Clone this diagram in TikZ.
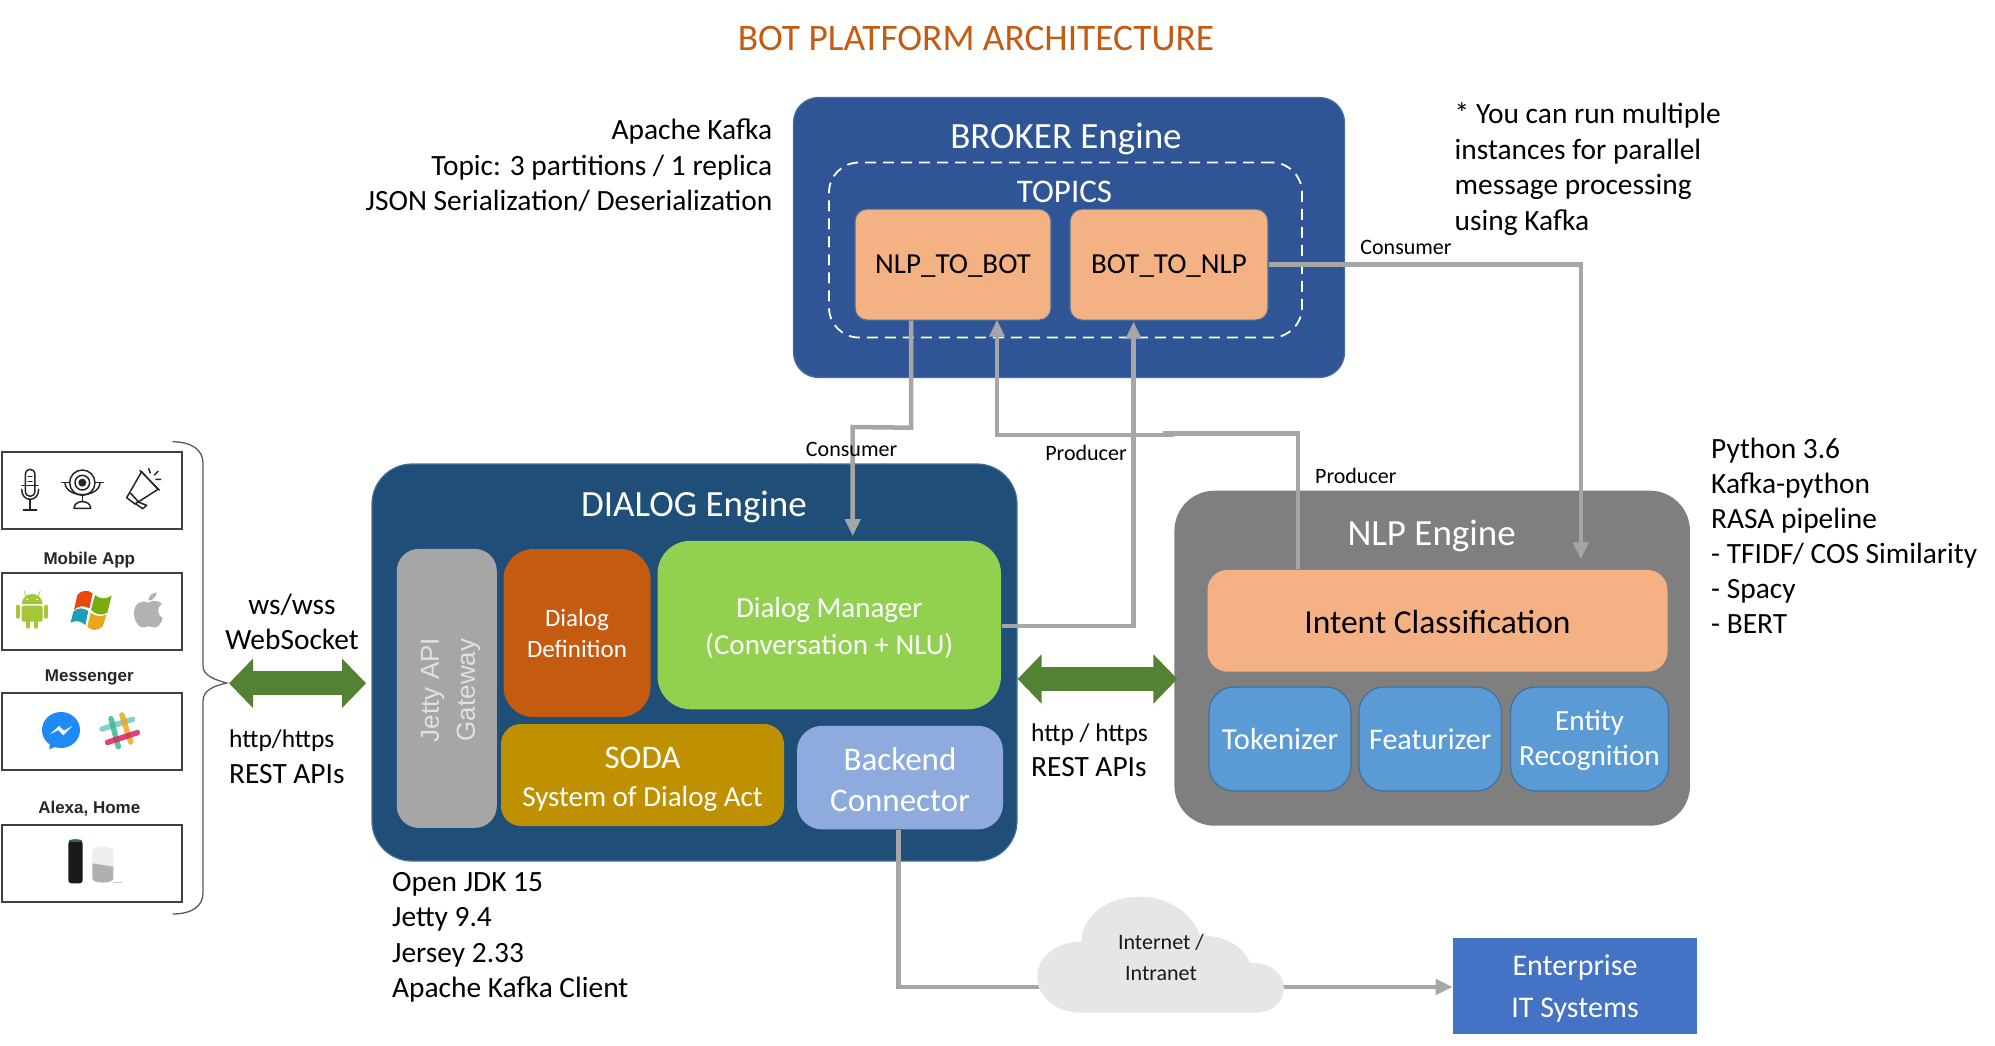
\documentclass[tikz,border=0pt]{standalone}
\usepackage{fontspec}
\setmainfont{Carlito}
\newfontfamily\arialf{Liberation Sans}
\usetikzlibrary{arrows.meta}
\newcommand\fz[2]{\fontsize{#1}{#2}\selectfont}
\newcommand\headroom[1]{\rule{0pt}{#1}}
\definecolor{conngray}{HTML}{A6A6A6}
\definecolor{borderblue}{HTML}{41719C}
\definecolor{orangelt}{HTML}{F4B183}
\definecolor{arrowgreen}{HTML}{548235}
\tikzset{
  box/.style={draw=borderblue,line width=1.2pt,text=white,align=center,inner sep=0pt},
  lower/.style={execute at begin node={\rule{0pt}{#1}}},
  plain/.style={inner sep=0pt,align=left},
  lbl/.style={inner sep=0pt,font=\fz{22}{26},text=black},
  conn/.style={draw=conngray,line width=4.5pt,line join=miter},
  tip/.style={-{Triangle[length=17pt,width=15pt]}},
  dbl/.style={draw=arrowgreen,line width=24pt,{Triangle[length=24pt,width=48pt]}-{Triangle[length=24pt,width=48pt]}},
  channel/.style={draw=black!75,line width=1.6pt,minimum width=180pt,minimum height=77pt,inner sep=0pt},
  chlabel/.style={inner sep=0pt,font=\arialf\bfseries\fz{17}{20},text=black!85},
  note/.style={plain,font=\fz{29.4}{35.5},text=black},
  icon/.style={draw=black!85,line width=1.5pt,line cap=round,line join=round}
}
\begin{document}
\begin{tikzpicture}[x=1pt,y=-1pt]
\useasboundingbox[fill=white] (0,0) rectangle (1995,1045);

% Title
\node[inner sep=0pt,font=\fz{37.4}{44},text={rgb,255:red,197;green,90;blue,17}] (title) at (976,38) {BOT PLATFORM ARCHITECTURE};

% Broker
\node[box,fill={rgb,255:red,47;green,85;blue,151},rounded corners=25pt,minimum width=551pt,minimum height=280pt] (broker) at (1069,237.5) {};
\node[inner sep=0pt,font=\fz{37}{44},text=white] (brokertitle) at (1066,139) {BROKER Engine};
\node[draw=white,dashed,line width=1.8pt,rounded corners=30pt,minimum width=473pt,minimum height=175pt,inner sep=0pt,dash pattern=on 11pt off 7pt] (topics) at (1065.5,250) {};
\node[inner sep=0pt,font=\fz{33}{40},text=white] (topicstitle) at (1064.5,192) {TOPICS};
\node[box,lower=22pt,fill=orangelt,text=black,rounded corners=12pt,minimum width=196pt,minimum height=111pt,font=\fz{29}{35}] (ntb) at (953,264.6) {NLP\_TO\_BOT};
\node[box,lower=22pt,fill=orangelt,text=black,rounded corners=12pt,minimum width=198pt,minimum height=111pt,font=\fz{29}{35}] (btn) at (1169,264.6) {BOT\_TO\_NLP};

% Dialog
\node[box,fill={rgb,255:red,31;green,78;blue,121},rounded corners=40pt,minimum width=645pt,minimum height=397pt] (dialog) at (694.5,662.5) {};
\node[inner sep=0pt,font=\fz{37}{44},text=white] (dialogtitle) at (694,507) {DIALOG Engine};
\node[box,draw=none,fill=conngray,rounded corners=22pt,minimum width=100pt,minimum height=279pt] (jetty) at (446.8,688.4) {};
\node[rotate=90,inner sep=0pt,align=center,font=\arialf\fz{26}{36},text={rgb,255:red,225;green,225;blue,225}] (jettytext) at (450.5,690) {Jetty API\\Gateway};
\node[box,draw=none,fill={rgb,255:red,197;green,90;blue,17},rounded corners=30pt,minimum width=147pt,minimum height=168pt,font=\fz{25}{31}] (ddef) at (577,633) {Dialog\\Definition};
\node[box,draw=none,fill={rgb,255:red,146;green,208;blue,80},rounded corners=33pt,minimum width=343.5pt,minimum height=168.5pt,font=\fz{29}{36}] (dm) at (829.25,625) {\headroom{26pt}Dialog Manager\\(Conversation + NLU)};
\node[box,draw=none,fill={rgb,255:red,191;green,144;blue,0},rounded corners=20pt,minimum width=283pt,minimum height=102pt,font=\fz{29}{38}] (soda) at (642.5,775) {\headroom{30pt}{\fz{33}{38}SODA}\\System of Dialog Act};
\node[box,draw=none,fill={rgb,255:red,143;green,170;blue,220},rounded corners=25pt,minimum width=206pt,minimum height=103.5pt,font=\fz{33}{41}] (backend) at (900,777.6) {\headroom{26.6pt}Backend\\Connector};

% NLP
\node[box,draw=none,fill={rgb,255:red,127;green,127;blue,127},rounded corners=40pt,minimum width=515.5pt,minimum height=335pt] (nlp) at (1432.2,658.2) {};
\node[inner sep=0pt,font=\fz{37}{44},text=white] (nlptitle) at (1431.6,535.5) {NLP Engine};
\node[box,lower=26.5pt,draw=none,fill=orangelt,text=black,rounded corners=20pt,minimum width=460pt,minimum height=101.7pt,font=\fz{33.5}{40}] (intent) at (1437.5,620.8) {Intent Classification};
\node[box,lower=22pt,fill={rgb,255:red,91;green,155;blue,213},rounded corners=25pt,minimum width=142pt,minimum height=104pt,font=\fz{30.5}{35}] (tok) at (1280,739) {Tokenizer};
\node[box,lower=22pt,fill={rgb,255:red,91;green,155;blue,213},rounded corners=25pt,minimum width=142.4pt,minimum height=104pt,font=\fz{30}{35}] (feat) at (1430.2,739) {Featurizer};
\node[box,fill={rgb,255:red,91;green,155;blue,213},rounded corners=25pt,minimum width=158pt,minimum height=104pt,font=\fz{29.3}{35}] (ent) at (1589.5,739) {\headroom{24pt}Entity\\Recognition};

% Enterprise
\node[box,draw=none,fill={rgb,255:red,68;green,114;blue,196},minimum width=243.4pt,minimum height=95.7pt,font=\fz{30}{42}] (ent2) at (1575,985.85) {\headroom{26pt}Enterprise\\IT Systems};

% Connectors
\coordinate (c1) at (1580.8,263.3);
\draw[conn,tip] (btn.east) -- (c1 |- btn.east) -- ([xshift=143.3pt,yshift=10pt]intent.north);
\draw[conn,tip] ([xshift=-42pt]ntb.south) -- ++(0,107) -- (852.7,427) -- ([xshift=23.45pt,yshift=4pt]dm.north);
\draw[conn,tip,line cap=butt] (1174,435) -- (997,435) -- ([xshift=44pt,yshift=1pt]ntb.south);
\draw[conn] (1162.7,433.3) -- (1297.8,433.3) -- ([xshift=-139.7pt]intent.north);
\draw[conn,tip] ([yshift=-1pt]dm.east) -- (1133.6,626) -- ([xshift=-35.4pt,yshift=-1pt]btn.south);

% Cloud with line
\node[inner sep=0pt,minimum size=0pt] (cloudc) at (1160.5,987) {};
\draw[conn,line cap=butt] ([xshift=-1.4pt]backend.south) -- (898.6,987) -- (cloudc.center);
\draw[conn,tip] (cloudc.center) -- ([yshift=-1.15pt]ent2.west);
\fill[fill={rgb,255:red,230;green,230;blue,230}] (1081.6,941.7)
  .. controls (1056,941.7) and (1037.2,957) .. (1037.2,976.7)
  .. controls (1037.2,997) and (1056,1012.7) .. (1081.6,1012.7)
  -- (1254,1012.7)
  .. controls (1272,1012.7) and (1283.8,1002) .. (1283.8,988.3)
  .. controls (1283.8,974) and (1272,962.7) .. (1250,962.7)
  .. controls (1243,945) and (1222,935) .. (1199.8,935.5)
  .. controls (1192,912) and (1167,896.7) .. (1140,896.7)
  .. controls (1107,896.7) and (1081.6,916) .. (1081.6,941.7) -- cycle;
\node[inner sep=0pt,align=center,font=\fz{22}{31},text=black!90] (cloudtext) at (1161,957.5) {Internet /\\Intranet};

% Connector labels
\node[lbl] (lc1) at (851.6,449) {Consumer};
\node[lbl] (lp1) at (1086,452.7) {Producer};
\node[lbl] (lp2) at (1355.8,475.7) {Producer};
\node[lbl] (lc2) at (1406,247) {Consumer};

% Green arrows
\draw[dbl] ([yshift=-16.5pt]dialog.east) -- ([xshift=3.5pt,yshift=-20.8pt]nlp.west);
\coordinate (bracetip) at (229,683.3);
\draw[dbl] (bracetip) -- ([xshift=-5.3pt,yshift=-20.8pt]dialog.west);

% Notes
\node[note,anchor=east,align=right] (kafka) at (772.5,165.5) {Apache Kafka\\Topic: 3 partitions / 1 replica\\JSON Serialization/ Deserialization};
\node[note,anchor=west] (parallel) at (1454.5,169) {* You can run multiple\\instances for parallel\\message processing\\using Kafka};
\node[note,anchor=west,font=\fz{29.4}{35}] (python) at (1711,536) {Python 3.6\\Kafka-python\\RASA pipeline\\- TFIDF/ COS Similarity\\- Spacy\\- BERT};
\node[note,anchor=west] (jdk) at (392,937.5) {Open JDK 15\\Jetty 9.4\\Jersey 2.33\\Apache Kafka Client};
\node[note,anchor=center,align=center] (ws) at (292,622) {ws/wss\\WebSocket};
\node[note,anchor=west] (rest1) at (229,756.5) {{\fz{25.5}{35.5}http/https}\\REST APIs};
\node[note,anchor=west] (rest2) at (1031,750) {{\fz{25.5}{35.5}http / https}\\REST APIs};

% Channel boxes
\node[channel] (ch1) at (91.7,490.3) {};
\node[channel] (ch2) at (91.7,611.7) {};
\node[channel] (ch3) at (91.7,731.3) {};
\node[channel] (ch4) at (91.7,863.5) {};
\node[chlabel] (l2) at (89.3,560) {Mobile App};
\node[chlabel] (l3) at (89.3,677) {Messenger};
\node[chlabel] (l4) at (89.3,809) {Alexa, Home};

% Brace
\draw[draw=black!65,line width=1.3pt] (172.7,441.7) .. controls (192,442) and (203,450) .. (203,463) -- (203,666)
  .. controls (203,676) and (216,680) .. (226.7,683)
  .. controls (214,686) and (203,690) .. (203,701) -- (203,893)
  .. controls (203,906) and (192,914) .. (172.7,914);

% Icons, drawn in 3x crop coordinates
\begin{scope}[shift={(0,430)},x=0.33333pt,y=-0.33333pt]
  % microphone
  \draw[icon] (76,135) .. controls (76,112) and (105,112) .. (105,135) -- (105,182) .. controls (105,205) and (76,205) .. (76,182) -- cycle;
  \draw[icon] (65,178) .. controls (65,218) and (116,218) .. (116,178);
  \draw[icon] (90,208) -- (90,240) (70,240) -- (110,240) (66,167) -- (114,167);
  \draw[icon,line width=1.2pt] (84,140) -- (96,140) (84,155) -- (96,155);
  % webcam
  \draw[icon] (247,158) circle (38);
  \draw[icon] (247,158) circle (22);
  \fill[black!85] (247,158) circle (12);
  \draw[icon] (185,158) -- (209,158) (285,158) -- (310,158);
  \draw[icon] (195,160) .. controls (200,205) and (294,205) .. (300,160);
  \draw[icon] (247,198) -- (247,215);
  \draw[icon] (222,235) .. controls (222,208) and (272,208) .. (272,235) -- cycle;
  % megaphone
  \draw[icon] (425,125) -- (474,178) -- (405,222) -- (380,203) -- cycle;
  \draw[icon] (420,122) -- (478,180);
  \draw[icon] (392,190) -- (416,216);
  \draw[icon] (412,215) -- (440,226) -- (428,236) -- (405,220);
  \draw[icon] (446,116) -- (451,129) (474,124) -- (463,135) (468,148) -- (482,148);
  % android
  \fill[fill={rgb,255:red,164;green,198;blue,57}] (65,522) .. controls (68,482) and (125,482) .. (128,522) -- cycle;
  \fill[fill={rgb,255:red,164;green,198;blue,57},rounded corners=2pt] (65,527) rectangle (128,575);
  \draw[draw={rgb,255:red,164;green,198;blue,57},line width=4.2pt,line cap=round] (54,530) -- (54,560) (139,530) -- (139,560) (84,575) -- (84,590) (109,575) -- (109,590);
  \draw[draw={rgb,255:red,164;green,198;blue,57},line width=.7pt] (78,498) -- (72,482) (115,498) -- (121,482);
  \fill[white] (82,508) circle (3) (111,508) circle (3);
  % windows
  \fill[fill={rgb,255:red,232;green,72;blue,12}] (232,495) .. controls (245,480) and (262,478) .. (278,490) -- (268,535) .. controls (252,525) and (235,527) .. (222,540) -- cycle;
  \fill[fill={rgb,255:red,123;green,171;blue,18}] (285,495) .. controls (300,508) and (318,508) .. (335,497) -- (322,548) .. controls (305,558) and (288,555) .. (273,540) -- cycle;
  \fill[fill={rgb,255:red,30;green,159;blue,184}] (220,545) .. controls (233,532) and (250,532) .. (265,543) -- (256,585) .. controls (242,572) and (227,570) .. (212,578) -- cycle;
  \fill[fill={rgb,255:red,229;green,167;blue,30}] (272,548) .. controls (287,560) and (305,561) .. (320,553) -- (308,590) .. controls (292,603) and (275,603) .. (262,590) -- cycle;
  % apple
  \fill[fill={rgb,255:red,178;green,178;blue,178}] (445,518) .. controls (425,508) and (402,520) .. (402,550) .. controls (402,575) and (420,597) .. (432,592) .. controls (442,588) and (448,588) .. (460,592) .. controls (472,597) and (485,578) .. (488,565) .. controls (470,555) and (470,530) .. (486,522) .. controls (475,510) and (458,510) .. (445,518) -- cycle;
  \fill[fill={rgb,255:red,178;green,178;blue,178}] (445,512) .. controls (445,498) and (458,488) .. (470,487) .. controls (470,500) and (458,512) .. (445,512) -- cycle;
  % messenger
  \fill[fill={rgb,255:red,30;green,138;blue,245}] (183,900) ellipse [x radius=57,y radius=54];
  \fill[fill={rgb,255:red,30;green,138;blue,245}] (150,935) -- (148,958) -- (178,945) -- cycle;
  \fill[white] (150,913) -- (177,888) -- (192,902) -- (218,887) -- (190,916) -- (175,900) -- cycle;
  % slack
  \begin{scope}[line width=5.5pt,line cap=round,opacity=.85]
    \draw[draw={rgb,255:red,112;green,201;blue,192}] (306,897) -- (398,868);
    \draw[draw={rgb,255:red,62;green,185;blue,145}] (333,866) -- (355,950);
    \draw[draw={rgb,255:red,233;green,168;blue,32}] (366,855) -- (392,936);
    \draw[draw={rgb,255:red,216;green,37;blue,95}] (323,937) -- (412,908);
  \end{scope}
  % echo
  \fill[fill={rgb,255:red,25;green,25;blue,28},rounded corners=3pt] (205,1232) rectangle (248,1360);
  \fill[fill={rgb,255:red,50;green,100;blue,110}] (205,1232) .. controls (215,1226) and (238,1226) .. (248,1232) .. controls (238,1238) and (215,1238) .. (205,1232) -- cycle;
  % home
  \fill[fill={rgb,255:red,238;green,238;blue,238}] (277,1300) -- (277,1262) .. controls (280,1245) and (335,1245) .. (340,1262) -- (340,1310) -- cycle;
  \fill[fill={rgb,255:red,176;green,176;blue,176}] (277,1300) -- (340,1310) -- (340,1345) .. controls (340,1362) and (277,1362) .. (277,1345) -- cycle;
  \fill[fill={rgb,255:red,200;green,200;blue,200}] (340,1355) rectangle (365,1358);
\end{scope}
\end{tikzpicture}
\end{document}
